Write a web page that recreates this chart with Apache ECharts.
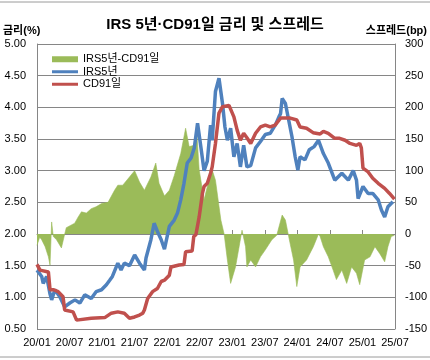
<!DOCTYPE html>
<html><head><meta charset="utf-8">
<script src="https://cdn.jsdelivr.net/npm/echarts@6/dist/echarts.min.js"></script>
<style>html,body{margin:0;padding:0;background:#fff}#c{width:430px;height:360px}</style>
</head><body><div id="c"></div>
<script>
// x positions are months since 2020/01
const xTickLabels = ['20/01','20/07','21/01','21/07','22/01','22/07','23/01','23/07','24/01','24/07','25/01','25/07'];
const seriesNames = ['IRS5년-CD91일','IRS5년','CD91일'];

const irsMonths = [0,0.24,0.86,1.15,1.78,2.38,2.7,3.3,4.2,5.1,6.05,7.0,7.9,8.8,10.0,10.9,11.9,12.8,13.4,13.9,14.9,15.5,16.1,17.05,18.0,18.9,19.8,20.1,21.0,21.6,21.9,22.2,22.9,23.5,23.8,24.4,25.3,25.9,26.5,27.1,27.7,28.4,29.0,29.6,30.2,30.8,31.4,32.0,32.3,32.9,33.55,34.2,34.65,35.1,35.7,36.3,36.9,37.5,38.1,38.7,39.4,40.3,41.2,42.1,43.0,44.0,44.6,44.9,45.2,45.8,46.4,47.0,47.6,48.1,48.5,49.4,50.2,51.1,51.9,52.8,53.7,54.9,56.2,57.4,58.3,58.9,59.2,60.1,61.05,61.9,62.9,63.5,64.1,64.7,65.6];
const irsValues = [1.43,1.40,1.33,1.22,1.33,1.06,0.96,1.12,1.01,0.85,0.91,0.96,0.91,1.04,0.98,1.09,1.12,1.20,1.27,1.33,1.54,1.43,1.54,1.50,1.67,1.54,1.43,1.62,1.91,2.17,2.20,2.04,1.91,1.76,1.75,2.12,2.22,2.33,2.54,2.80,3.12,3.20,3.36,3.75,3.38,3.00,3.15,3.72,3.48,4.25,4.46,4.06,3.69,3.48,3.67,3.22,3.43,3.06,3.40,3.06,3.08,3.36,3.46,3.57,3.59,3.73,3.85,3.90,4.14,4.06,3.80,3.54,3.22,3.01,3.22,3.17,3.33,3.38,3.48,3.27,3.12,2.85,2.96,2.85,3.00,2.85,2.56,2.75,2.64,2.64,2.54,2.38,2.27,2.43,2.51];

const cdMonths = [0,0.55,2.1,2.4,3.0,3.9,4.8,5.1,6.65,7.3,10.0,12.5,13.7,14.9,16.1,17.05,18.0,18.9,19.5,19.8,20.4,21.3,22.2,22.9,23.5,24.4,24.7,26.2,27.1,27.4,28.6,28.9,29.3,29.9,30.5,30.8,31.4,32.0,32.3,32.9,33.55,34.2,35.4,36.3,36.9,37.5,38.1,38.7,39.4,40.3,41.2,42.1,43.0,43.9,44.9,46.7,47.9,48.5,49.7,50.9,52.2,52.8,53.7,54.9,55.8,56.8,57.7,58.9,59.5,59.8,60.1,61.05,61.9,62.9,64.1,65.0,65.9];
const cdValues = [1.52,1.43,1.40,1.12,1.12,1.09,1.01,0.80,0.77,0.64,0.67,0.68,0.75,0.77,0.75,0.67,0.69,0.72,0.75,0.80,0.98,1.09,1.14,1.25,1.27,1.35,1.48,1.51,1.52,1.72,1.73,1.96,1.99,2.27,2.64,2.75,2.80,2.96,3.06,3.43,3.91,4.01,4.03,3.85,3.64,3.48,3.59,3.52,3.43,3.59,3.69,3.72,3.69,3.72,3.83,3.83,3.80,3.69,3.67,3.60,3.58,3.62,3.59,3.51,3.51,3.48,3.43,3.40,3.43,3.36,3.04,2.98,2.88,2.80,2.72,2.64,2.55];

const spreadMonths = [0,0.5,0.86,1.5,2.1,2.4,2.7,3.0,3.6,4.5,5.0,5.4,6.95,7.6,8.2,9.1,10.0,10.9,11.9,13.1,14.3,14.9,15.8,17.05,18.0,18.9,19.8,21.0,21.9,22.5,23.5,24.4,25.3,26.5,27.4,28.05,29.0,29.5,29.9,30.8,31.4,32.3,32.9,33.9,34.5,35.1,35.7,36.6,37.8,38.45,38.7,39.4,40.3,41.2,42.1,43.3,44.2,45.2,45.8,46.4,47.3,47.9,48.5,49.7,50.95,51.9,52.2,52.8,53.7,54.6,55.2,56.2,57.1,58.0,58.9,59.5,60.4,61.4,62.3,63.2,64.1,64.7,65.3,65.9];
const spreadValues = [-18,-5,-9,-20,-36,-49,19,-4,-9,-22,-4,10,17,27,35,33,40,43,48,50,69,77,77,90,100,82,69,90,112,80,60,69,92,127,167,138,140,155,101,54,75,101,85,22,0,-41,-78,-52,6,-20,-52,-41,-52,-36,-25,-9,-2,30,22,-4,-41,-83,-52,-41,-20,0,-4,-20,-36,-57,-72,-57,-78,-52,-62,-80,-41,-36,-20,-31,-44,-20,-4,-2];

const pair = (xs, ys) => xs.map((x, i) => [x, ys[i]]);
const FONT = "'Liberation Sans', 'Noto Sans CJK KR', sans-serif";
const GREEN = '#9BBB59', BLUE = '#4F81BD', RED = '#C0504D', GRID = '#868686';

const chart = echarts.init(document.getElementById('c'), null, {renderer: 'canvas'});
chart.setOption({
  animation: false,
  backgroundColor: '#fff',
  textStyle: {fontFamily: FONT},
  title: {
    text: 'IRS 5년·CD91일 금리 및 스프레드',
    left: 'center', top: 12,
    textStyle: {fontFamily: FONT, fontSize: 15, fontWeight: 'bold', color: '#000'}
  },
  legend: {
    orient: 'vertical', left: 47, top: 48, itemGap: 0,
    itemWidth: 26, itemHeight: 6,
    textStyle: {fontFamily: FONT, fontSize: 11, color: '#000', lineHeight: 12.5},
    data: [
      {name: seriesNames[0], icon: 'rect'},
      {name: seriesNames[1], icon: 'path://M0 0H26V3H0Z'},
      {name: seriesNames[2], icon: 'path://M0 0H26V3H0Z'}
    ]
  },
  grid: {left: 37, right: 33, top: 44, bottom: 31, containLabel: false},
  xAxis: {
    type: 'value', min: 0, max: 66, interval: 6,
    axisLine: {show: true, lineStyle: {color: GRID, width: 1}},
    axisTick: {show: true, inside: true, length: 4, lineStyle: {color: GRID}},
    splitLine: {show: false},
    axisLabel: {
      color: '#000', fontSize: 11, fontFamily: FONT, margin: 8,
      showMinLabel: true, showMaxLabel: true,
      formatter: v => xTickLabels[Math.round(v / 6)] || ''
    }
  },
  yAxis: [
    {
      type: 'value', min: 0.5, max: 5, interval: 0.5,
      axisLine: {show: true, lineStyle: {color: GRID}},
      axisTick: {show: false},
      splitLine: {show: true, lineStyle: {color: GRID, width: 1}},
      axisLabel: {color: '#000', fontSize: 11, fontFamily: FONT, margin: 11, formatter: v => v.toFixed(2)}
    },
    {
      type: 'value', min: -150, max: 300, interval: 50,
      axisLine: {show: true, lineStyle: {color: GRID}},
      axisTick: {show: false},
      splitLine: {show: false},
      axisLabel: {color: '#000', fontSize: 11, fontFamily: FONT, margin: 10}
    }
  ],
  series: [
    {
      name: seriesNames[0], type: 'line', yAxisIndex: 1, z: 1,
      data: pair(spreadMonths, spreadValues),
      showSymbol: false, symbol: 'none',
      lineStyle: {width: 0.6, color: GREEN},
      itemStyle: {color: GREEN},
      areaStyle: {color: GREEN, opacity: 1, origin: 0}
    },
    {
      name: seriesNames[1], type: 'line', yAxisIndex: 0, z: 3,
      data: pair(irsMonths, irsValues),
      showSymbol: false, symbol: 'none',
      lineStyle: {width: 3.5, color: BLUE},
      itemStyle: {color: BLUE}
    },
    {
      name: seriesNames[2], type: 'line', yAxisIndex: 0, z: 4,
      data: pair(cdMonths, cdValues),
      showSymbol: false, symbol: 'none',
      lineStyle: {width: 3.5, color: RED},
      itemStyle: {color: RED}
    }
  ],
  graphic: [
    {type: 'text', left: 3, top: 25, style: {text: '금리(%)', font: "bold 11px " + FONT, fill: '#000'}},
    {type: 'text', right: 3, top: 25, style: {text: '스프레드(bp)', font: "bold 11px " + FONT, fill: '#000'}},
    {type: 'line', shape: {x1: 0, y1: 2, x2: 430, y2: 2}, style: {stroke: '#9a9a9a', lineWidth: 1}, silent: true},
    {type: 'line', shape: {x1: 0, y1: 357, x2: 430, y2: 357}, style: {stroke: '#9a9a9a', lineWidth: 1}, silent: true}
  ]
});
</script>
</body></html>
